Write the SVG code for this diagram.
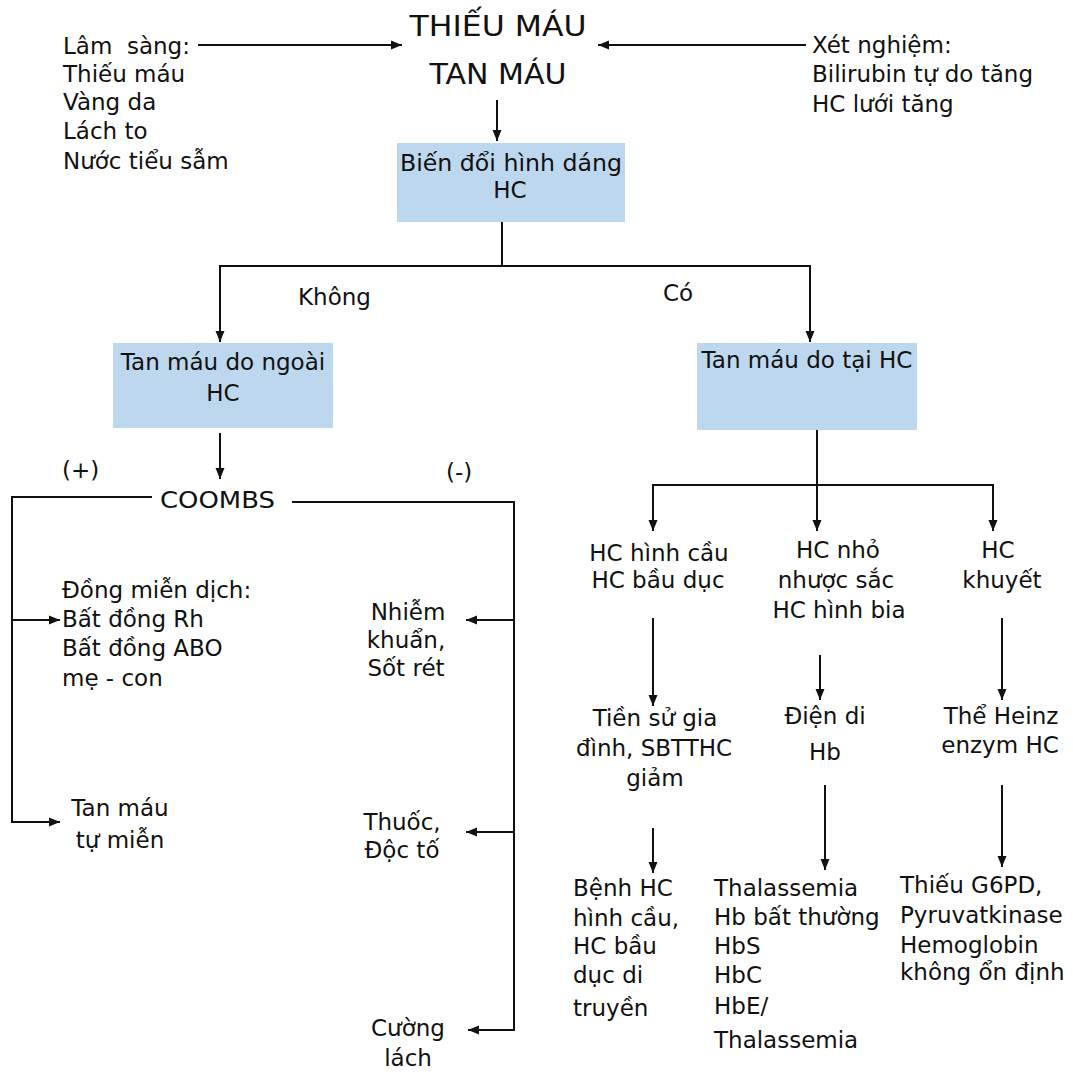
<svg xmlns="http://www.w3.org/2000/svg" width="1073" height="1074" viewBox="0 0 1073 1074">
<style>
text{font-family:"DejaVu Sans","Liberation Sans",sans-serif;font-size:23px;fill:#111}
.c{text-anchor:middle}
.title{font-size:28px}
.box{fill:#bdd7ee}
.ln{fill:none;stroke:#111;stroke-width:2}
</style>
<defs>
<marker id="ah" markerUnits="userSpaceOnUse" markerWidth="12" markerHeight="10" refX="11" refY="5" orient="auto">
<path d="M0,0.5 L11,5 L0,9.5 z" fill="#111"/>
</marker>
</defs>
<rect width="1073" height="1074" fill="#fff"/>
<g id="connectors" class="ln">
<path class="ln" d="M198,45 H402" marker-end="url(#ah)"/>
<path class="ln" d="M806,45 H598" marker-end="url(#ah)"/>
<path class="ln" d="M497,100 V141" marker-end="url(#ah)"/>
<path class="ln" d="M502,222 V266"/>
<path class="ln" d="M502,266 H220 V342" marker-end="url(#ah)"/>
<path class="ln" d="M502,266 H810 V342" marker-end="url(#ah)"/>
<path class="ln" d="M220,433 V479" marker-end="url(#ah)"/>
<path class="ln" d="M152,497 H12 V822 H60" marker-end="url(#ah)"/>
<path class="ln" d="M12,620 H60" marker-end="url(#ah)"/>
<path class="ln" d="M292,502 H514 V1030 H468" marker-end="url(#ah)"/>
<path class="ln" d="M514,620 H466" marker-end="url(#ah)"/>
<path class="ln" d="M514,832 H466" marker-end="url(#ah)"/>
<path class="ln" d="M817,430 V531" marker-end="url(#ah)"/>
<path class="ln" d="M817,485 H653 V531" marker-end="url(#ah)"/>
<path class="ln" d="M817,485 H993 V531" marker-end="url(#ah)"/>
<path class="ln" d="M653,618 V706" marker-end="url(#ah)"/>
<path class="ln" d="M820,655 V700" marker-end="url(#ah)"/>
<path class="ln" d="M1002,618 V700" marker-end="url(#ah)"/>
<path class="ln" d="M653,828 V873" marker-end="url(#ah)"/>
<path class="ln" d="M825,785 V870" marker-end="url(#ah)"/>
<path class="ln" d="M1002,785 V867" marker-end="url(#ah)"/>
</g>
<g id="title">
<text class="title c" x="498" y="36" textLength="177" lengthAdjust="spacingAndGlyphs">THIẾU MÁU</text>
<text class="title c" x="498" y="84" textLength="137" lengthAdjust="spacingAndGlyphs">TAN MÁU</text>
</g>
<g id="lam-sang">
<text x="63" y="54" xml:space="preserve">Lâm  sàng:</text>
<text x="63" y="82">Thiếu máu</text>
<text x="63" y="110">Vàng da</text>
<text x="63" y="139">Lách to</text>
<text x="63" y="169">Nước tiểu sẫm</text>
</g>
<g id="xet-nghiem">
<text x="812" y="53">Xét nghiệm:</text>
<text x="812" y="82">Bilirubin tự do tăng</text>
<text x="812" y="112">HC lưới tăng</text>
</g>
<g id="bien-doi">
<rect class="box" x="397" y="143" width="228" height="79"/>
<text x="400" y="171" textLength="222" lengthAdjust="spacingAndGlyphs">Biến đổi hình dáng</text>
<text class="c" x="510" y="198">HC</text>
</g>
<g id="labels">
<text x="298" y="305">Không</text>
<text x="663" y="301">Có</text>
<text x="62" y="478">(+)</text>
<text x="446" y="480">(-)</text>
</g>
<g id="ngoai-hc">
<rect class="box" x="113" y="343" width="220" height="85"/>
<text class="c" x="223" y="370">Tan máu do ngoài</text>
<text class="c" x="223" y="401">HC</text>
</g>
<g id="tai-hc">
<rect class="box" x="697" y="343" width="220" height="87"/>
<text class="c" x="807" y="368">Tan máu do tại HC</text>
</g>
<g id="coombs">
<text x="160" y="508" textLength="115" lengthAdjust="spacingAndGlyphs">COOMBS</text>
</g>
<g id="dong-mien-dich">
<text x="62" y="598">Đồng miễn dịch:</text>
<text x="62" y="627">Bất đồng Rh</text>
<text x="62" y="656">Bất đồng ABO</text>
<text x="62" y="686">mẹ - con</text>
</g>
<g id="tu-mien">
<text class="c" x="120" y="816">Tan máu</text>
<text class="c" x="120" y="848">tự miễn</text>
</g>
<g id="nhiem-khuan">
<text class="c" x="408" y="620">Nhiễm</text>
<text class="c" x="406" y="648">khuẩn,</text>
<text class="c" x="406" y="676">Sốt rét</text>
</g>
<g id="thuoc">
<text class="c" x="402" y="830">Thuốc,</text>
<text class="c" x="402" y="858">Độc tố</text>
</g>
<g id="cuong-lach">
<text class="c" x="408" y="1036">Cường</text>
<text class="c" x="408" y="1066">lách</text>
</g>
<g id="hinh-cau">
<text class="c" x="659" y="561">HC hình cầu</text>
<text class="c" x="658" y="588">HC bầu dục</text>
</g>
<g id="nho-nhuoc-sac">
<text class="c" x="838" y="558">HC nhỏ</text>
<text class="c" x="836" y="588">nhược sắc</text>
<text class="c" x="839" y="618">HC hình bia</text>
</g>
<g id="khuyet">
<text class="c" x="998" y="558">HC</text>
<text class="c" x="1002" y="588">khuyết</text>
</g>
<g id="tien-su">
<text class="c" x="655" y="726">Tiền sử gia</text>
<text class="c" x="654" y="756">đình, SBTTHC</text>
<text class="c" x="655" y="786">giảm</text>
</g>
<g id="dien-di">
<text class="c" x="825" y="724">Điện di</text>
<text class="c" x="825" y="760">Hb</text>
</g>
<g id="heinz">
<text class="c" x="1001" y="724">Thể Heinz</text>
<text class="c" x="1000" y="753">enzym HC</text>
</g>
<g id="benh-hc">
<text x="573" y="896">Bệnh HC</text>
<text x="573" y="926">hình cầu,</text>
<text x="573" y="954">HC bầu</text>
<text x="573" y="983">dục di</text>
<text x="573" y="1016">truyền</text>
</g>
<g id="thalassemia">
<text x="714" y="896">Thalassemia</text>
<text x="714" y="925">Hb bất thường</text>
<text x="714" y="954">HbS</text>
<text x="714" y="983">HbC</text>
<text x="714" y="1014">HbE/</text>
<text x="714" y="1048">Thalassemia</text>
</g>
<g id="g6pd">
<text x="900" y="893">Thiếu G6PD,</text>
<text x="900" y="923">Pyruvatkinase</text>
<text x="900" y="953">Hemoglobin</text>
<text x="900" y="980">không ổn định</text>
</g>
</svg>
